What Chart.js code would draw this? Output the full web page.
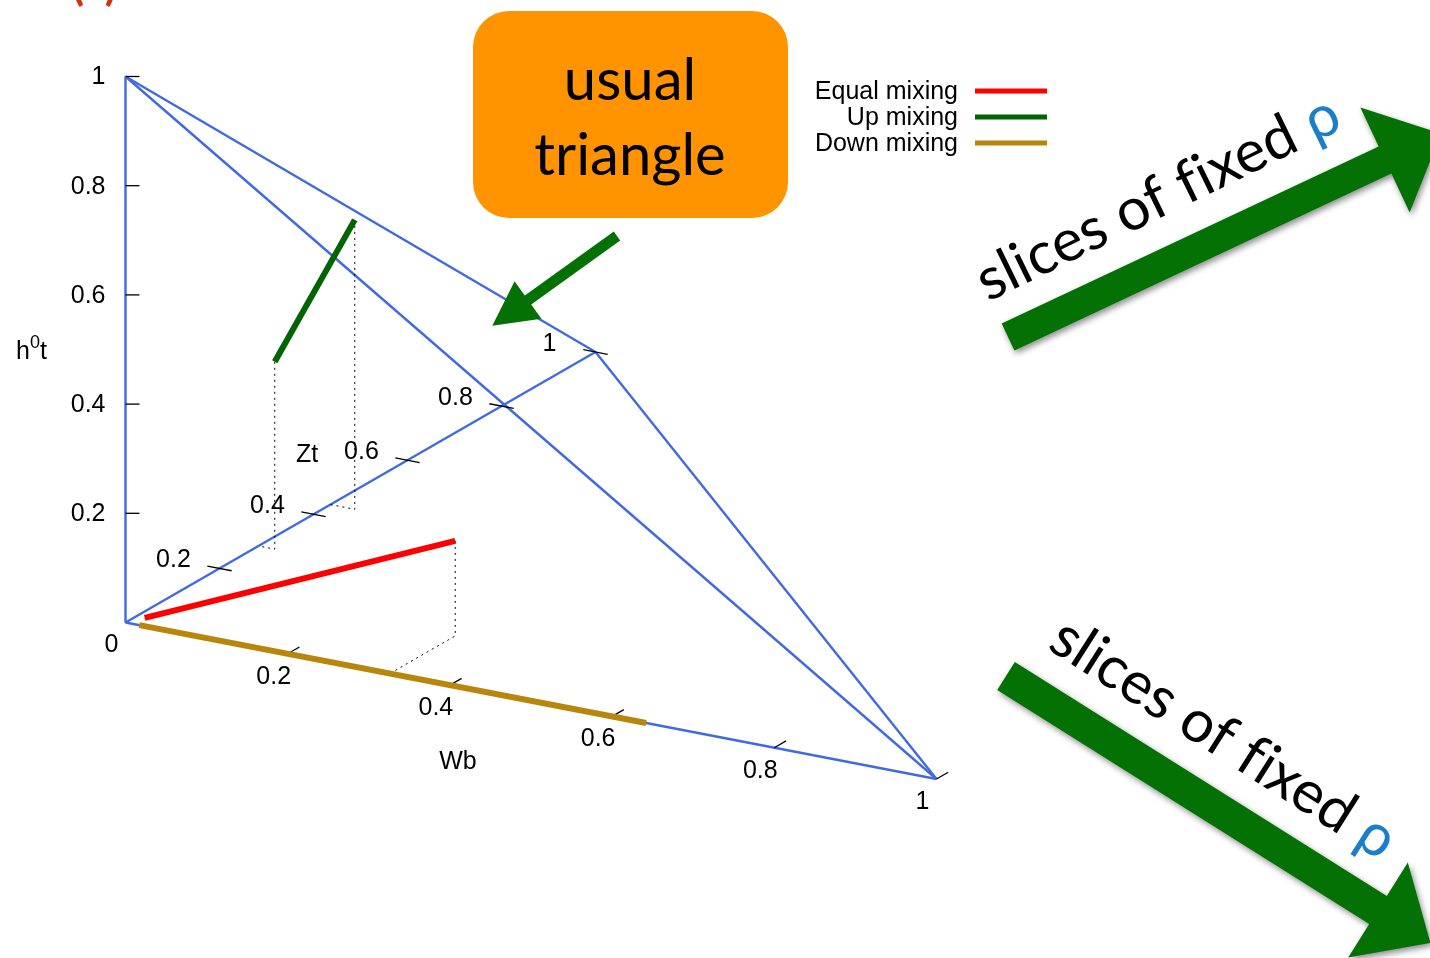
<!DOCTYPE html>
<html>
<head>
<meta charset="utf-8">
<script src="https://cdn.jsdelivr.net/npm/chart.js@4/dist/chart.umd.min.js"></script>
<style>
  html, body { margin: 0; padding: 0; background: #ffffff; overflow: hidden; }
  #wrap { position: relative; width: 1430px; height: 958px; }
</style>
</head>
<body>
<div id="wrap"><canvas id="c"></canvas></div>
<script>
// ---- Tick values and labels for the three axes ----
const wbTicks  = [0.2, 0.4, 0.6, 0.8, 1];
const wbLabels = ['0', '0.2', '0.4', '0.6', '0.8', '1'];
const wbLabelValues = [0, 0.2, 0.4, 0.6, 0.8, 1];
const ztTicks  = [0.2, 0.4, 0.6, 0.8, 1];
const ztLabels = ['0.2', '0.4', '0.6', '0.8', '1'];
const hTicks   = [0.2, 0.4, 0.6, 0.8, 1];
const hLabels  = ['0.2', '0.4', '0.6', '0.8', '1'];

// ---- Series (Wb, Zt, h0t) at the ends of each segment ----
const seriesNames = ['Equal mixing', 'Up mixing', 'Down mixing'];
const equalWb = [0.019, 0.326];
const equalZt = [0.008, 0.139];
const equalH  = [0.010, 0.174];
const upWb    = [0.020, 0.030];
const upZt    = [0.283, 0.436];
const upH     = [0.343, 0.530];
const downWb  = [0.017, 0.642];
const downZt  = [0, 0];
const downH   = [0, 0];

// ---- Unit simplex frame: corners and edges ----
const frameCorners = [[0, 0, 0], [1, 0, 0], [0, 1, 0], [0, 0, 1]];
const frameEdges   = [[0, 1], [0, 2], [0, 3], [1, 2], [1, 3], [2, 3]];

// ---- 3D view: screen position of the origin and of each unit axis ----
const VIEW = {
  origin: [125.5, 622.5],
  wb: [811, 156.5],
  zt: [470, -270.5],
  h:  [0, -546]
};
function project(w, z, h) {
  return {
    x: VIEW.origin[0] + w * VIEW.wb[0] + z * VIEW.zt[0] + h * VIEW.h[0],
    y: VIEW.origin[1] + w * VIEW.wb[1] + z * VIEW.zt[1] + h * VIEW.h[1]
  };
}

const COLORS = { frame: '#4169e1', equal: '#ff0000', up: '#006400', down: '#b8860b' };
const TXT = '"Liberation Sans", Arial, sans-serif';

function seg(ws, zs, hs) { return ws.map((w, i) => project(w, zs[i], hs[i])); }

const datasets = [];
// coloured data segments
datasets.push({ label: seriesNames[0], data: seg(equalWb, equalZt, equalH), borderColor: COLORS.equal, borderWidth: 6, order: 1, isSeries: true });
datasets.push({ label: seriesNames[1], data: seg(upWb, upZt, upH), borderColor: COLORS.up, borderWidth: 6, order: 1, isSeries: true });
datasets.push({ label: seriesNames[2], data: seg(downWb, downZt, downH), borderColor: COLORS.down, borderWidth: 6, order: 1, isSeries: true });
// simplex frame
frameEdges.forEach(([a, b]) => {
  const A = frameCorners[a], B = frameCorners[b];
  datasets.push({ label: 'frame', data: [project(A[0], A[1], A[2]), project(B[0], B[1], B[2])],
    borderColor: COLORS.frame, borderWidth: 2.4, order: 3 });
});
// dotted drop lines: endpoint -> floor -> axis
function dropLines(ws, zs, hs, toAxis) {
  ws.forEach((w, i) => {
    const z = zs[i], h = hs[i];
    const pts = [project(w, z, h), project(w, z, 0),
      toAxis === 'wb' ? project(w, 0, 0) : project(0, z, 0)];
    datasets.push({ label: 'drop', data: pts, borderColor: '#000', borderWidth: 1,
      borderDash: [2, 4], order: 2 });
  });
}
dropLines([equalWb[1]], [equalZt[1]], [equalH[1]], 'wb');
dropLines(upWb, upZt, upH, 'zt');
// tick marks
wbTicks.forEach(v => datasets.push({ label: 'tick', data: [project(v, 0, 0), project(v, 0.025, 0)], borderColor: '#000', borderWidth: 1.3, order: 2 }));
ztTicks.forEach(v => datasets.push({ label: 'tick', data: [project(-0.015, v, 0), project(0.015, v, 0)], borderColor: '#000', borderWidth: 1.3, order: 2 }));
hTicks.forEach(v => { const p = project(0, 0, v); datasets.push({ label: 'tick', data: [p, { x: p.x + 14, y: p.y }], borderColor: '#000', borderWidth: 1.3, order: 2 }); });

datasets.forEach(d => { d.showLine = true; d.pointRadius = 0; d.fill = false; d.borderCapStyle = 'butt'; });

function drawArrow(ctx, x0, y0, bx, by, tipLen, shaftW, headHalf, color, shadow) {
  const dx = bx - x0, dy = by - y0, L = Math.hypot(dx, dy);
  const ux = dx / L, uy = dy / L, nx = -uy, ny = ux;
  const tx = bx + ux * tipLen, ty = by + uy * tipLen;
  ctx.save();
  if (shadow) {
    ctx.shadowColor = 'rgba(0,0,0,0.45)'; ctx.shadowBlur = 6;
    ctx.shadowOffsetX = 2; ctx.shadowOffsetY = 3;
  }
  ctx.fillStyle = color;
  ctx.beginPath();
  ctx.moveTo(x0 + nx * shaftW / 2, y0 + ny * shaftW / 2);
  ctx.lineTo(bx + nx * shaftW / 2, by + ny * shaftW / 2);
  ctx.lineTo(bx + nx * headHalf, by + ny * headHalf);
  ctx.lineTo(tx, ty);
  ctx.lineTo(bx - nx * headHalf, by - ny * headHalf);
  ctx.lineTo(bx - nx * shaftW / 2, by - ny * shaftW / 2);
  ctx.lineTo(x0 - nx * shaftW / 2, y0 - ny * shaftW / 2);
  ctx.closePath();
  ctx.fill();
  ctx.restore();
}

function rotatedRhoText(ctx, x, y, angleDeg, size) {
  ctx.save();
  ctx.translate(x, y);
  ctx.rotate(angleDeg * Math.PI / 180);
  ctx.font = size + 'px Lato, "Open Sans", sans-serif';
  ctx.textAlign = 'left'; ctx.textBaseline = 'alphabetic';
  ctx.fillStyle = '#000';
  // zero-width non-joiner keeps "f" and "i" as separate glyphs
  const s = 'slices of f\u200Cixed ';
  ctx.fillText(s, 0, 0);
  ctx.fillStyle = '#1a7fc8';
  ctx.fillText('ρ', ctx.measureText(s).width, 0);
  ctx.restore();
}

const decorations = {
  id: 'decorations',
  afterDatasetsDraw(chart) {
    const ctx = chart.ctx, sx = chart.scales.x, sy = chart.scales.y;
    const P = (w, z, h) => { const p = project(w, z, h); return { x: sx.getPixelForValue(p.x), y: sy.getPixelForValue(p.y) }; };
    ctx.save();
    ctx.fillStyle = '#000';
    ctx.font = '25px ' + TXT;
    ctx.textBaseline = 'middle';
    // h0t tick labels
    ctx.textAlign = 'right';
    hTicks.forEach((v, i) => { const p = P(0, 0, v); ctx.fillText(hLabels[i], p.x - 20, p.y + 1); });
    // Zt tick labels
    ctx.textAlign = 'center';
    ztTicks.forEach((v, i) => { const p = P(0, v, 0); ctx.fillText(ztLabels[i], p.x - 46, p.y - 8); });
    // Wb tick labels
    wbLabelValues.forEach((v, i) => { const p = P(v, 0, 0); ctx.fillText(wbLabels[i], p.x - 14, p.y + 23); });
    // axis titles
    ctx.fillText('Wb', 458, 762);
    ctx.fillText('Zt', 307, 455);
    ctx.textAlign = 'left';
    ctx.fillText('h', 16, 352);
    const hw = ctx.measureText('h').width;
    ctx.font = '18px ' + TXT;
    ctx.fillText('0', 16 + hw, 343);
    const zw = ctx.measureText('0').width;
    ctx.font = '25px ' + TXT;
    ctx.fillText('t', 16 + hw + zw, 352);

    // legend: right-aligned text followed by line sample
    chart.data.datasets.filter(d => d.isSeries).forEach((d, i) => {
      const y = 91 + i * 26;
      ctx.textAlign = 'right'; ctx.fillStyle = '#000';
      ctx.fillText(d.label, 958, y + 1);
      ctx.strokeStyle = d.borderColor; ctx.lineWidth = 5;
      ctx.beginPath(); ctx.moveTo(975, y); ctx.lineTo(1047, y); ctx.stroke();
    });
    ctx.restore();

    // panel tag cut at the top edge
    ctx.save();
    ctx.fillStyle = '#d2330f';
    ctx.font = 'bold 44px Lato, sans-serif';
    ctx.textAlign = 'left'; ctx.textBaseline = 'alphabetic';
    ctx.fillText('(a)', 72, 0);
    ctx.restore();

    // callout box
    ctx.save();
    ctx.fillStyle = '#ff9400';
    ctx.beginPath();
    ctx.roundRect(473, 11, 315, 207, 36);
    ctx.fill();
    ctx.fillStyle = '#000';
    ctx.font = '58px Lato, "Open Sans", sans-serif';
    ctx.textAlign = 'center'; ctx.textBaseline = 'alphabetic';
    ctx.fillText('usual', 630, 100);
    ctx.fillText('triangle', 630, 175);
    ctx.restore();

    // arrows
    drawArrow(ctx, 617, 236, 528, 300, 44, 11, 23, '#037103', false);
    drawArrow(ctx, 1008, 337, 1385, 160, 62, 30, 58, '#037103', true);
    drawArrow(ctx, 1006, 676, 1378, 910, 62, 33, 56, '#037103', true);

    rotatedRhoText(ctx, 988, 302, -26, 59);
    rotatedRhoText(ctx, 1046, 648, 32.5, 59);
  }
};

new Chart(document.getElementById('c'), {
  type: 'scatter',
  data: { datasets },
  options: {
    responsive: true,
    maintainAspectRatio: false,
    animation: false,
    layout: { padding: 0 },
    plugins: { legend: { display: false }, tooltip: { enabled: false } },
    scales: {
      x: { type: 'linear', min: 0, max: 1430, display: false },
      y: { type: 'linear', min: 0, max: 958, reverse: true, display: false }
    }
  },
  plugins: [decorations]
});
</script>
</body>
</html>
